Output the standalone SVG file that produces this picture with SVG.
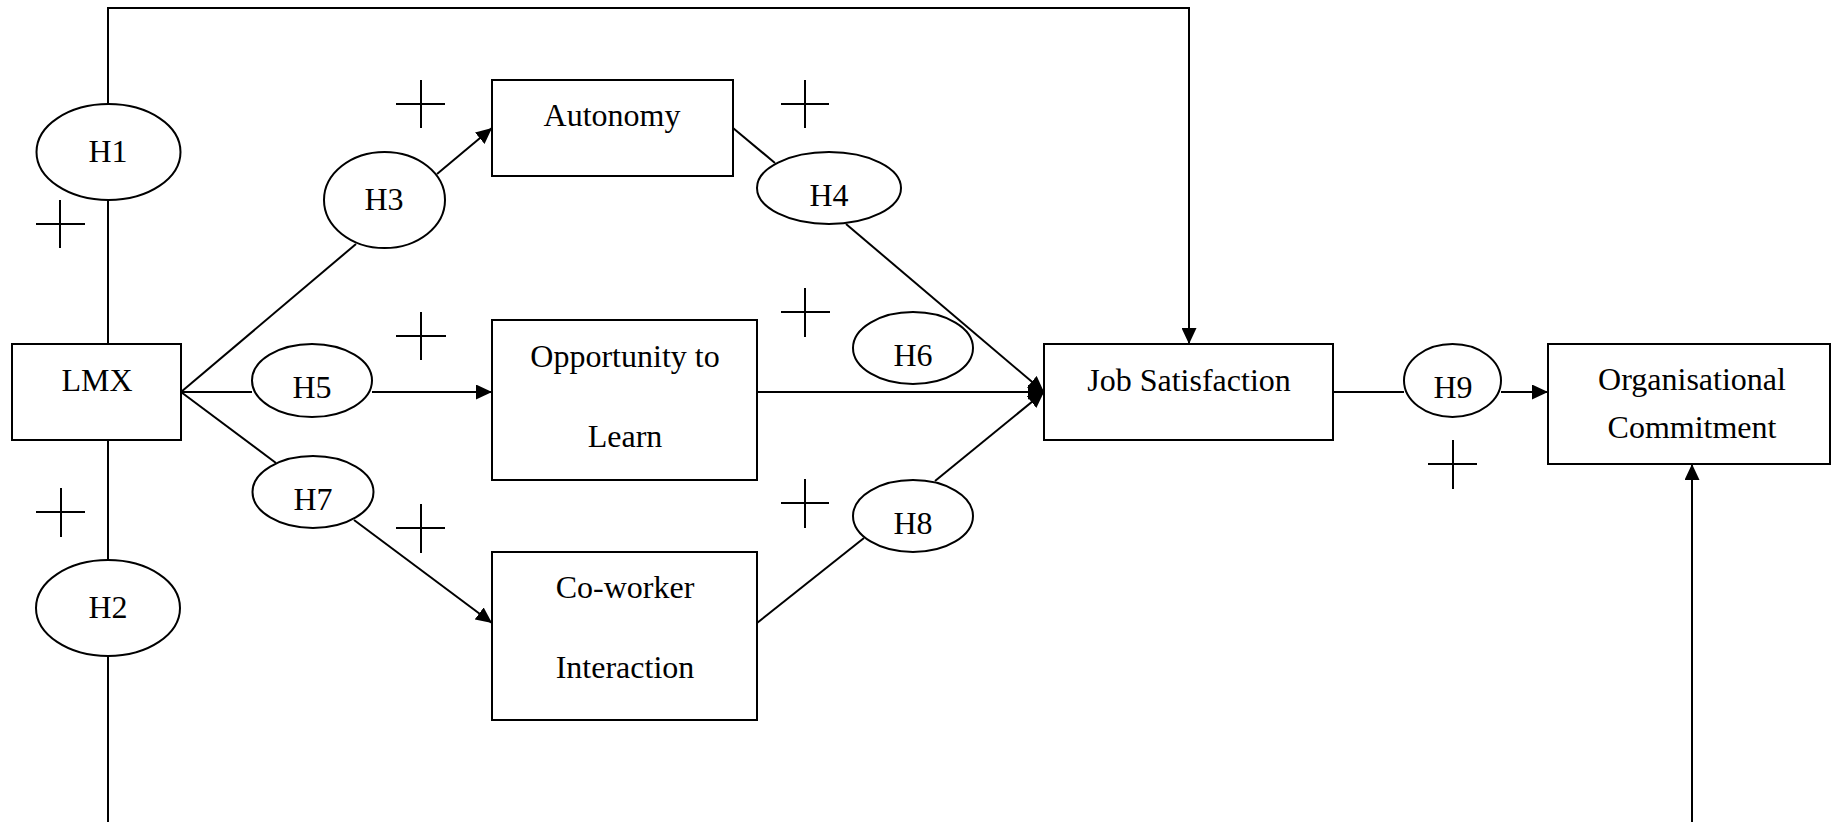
<svg xmlns="http://www.w3.org/2000/svg" width="1831" height="822" viewBox="0 0 1831 822">
  <style>
    .box { fill: #ffffff; stroke: #000000; stroke-width: 2; }
    .hyp { fill: #ffffff; stroke: #000000; stroke-width: 2; }
    .edge { fill: none; stroke: #000000; stroke-width: 2; }
    .arrow { marker-end: url(#head); }
    .plus { stroke: #000000; stroke-width: 2; fill: none; }
    text { font-family: "Liberation Serif", "Times New Roman", serif; font-size: 32px; fill: #000000; text-anchor: middle; }
  </style>
  <defs>
    <marker id="head" markerUnits="userSpaceOnUse" markerWidth="16" markerHeight="15" refX="16" refY="7.5" orient="auto">
      <path d="M0,0 L16,7.5 L0,15 Z" fill="#000000"/>
    </marker>
  </defs>

  <rect width="1831" height="822" fill="#ffffff"/>

  <!-- connectors -->
  <g id="connectors">
    <!-- H1: LMX up and over to Job Satisfaction -->
    <path class="edge arrow" d="M108,344 L108,8 L1189,8 L1189,344"/>
    <!-- H2: LMX down to Organisational Commitment (runs below the frame) -->
    <line class="edge" x1="108" y1="440" x2="108" y2="822"/>
    <line class="edge arrow" x1="1692" y1="822" x2="1692" y2="464"/>
    <!-- H3 -->
    <line class="edge" x1="181" y1="392" x2="356" y2="244"/>
    <line class="edge arrow" x1="437" y1="174" x2="492" y2="128"/>
    <!-- H5 -->
    <line class="edge" x1="181" y1="392" x2="252" y2="392"/>
    <line class="edge arrow" x1="372" y1="392" x2="492" y2="392"/>
    <!-- H7 -->
    <line class="edge" x1="181" y1="392" x2="276" y2="463"/>
    <line class="edge arrow" x1="354" y1="520" x2="492" y2="623"/>
    <!-- H4 -->
    <line class="edge" x1="733" y1="128" x2="775" y2="163"/>
    <line class="edge arrow" x1="846" y1="224" x2="1044" y2="392"/>
    <!-- H6 -->
    <line class="edge arrow" x1="757" y1="392" x2="1044" y2="392"/>
    <!-- H8 -->
    <line class="edge" x1="757" y1="623" x2="864" y2="538"/>
    <line class="edge arrow" x1="935" y1="481" x2="1044" y2="392"/>
    <!-- H9 -->
    <line class="edge" x1="1333" y1="392" x2="1404" y2="392"/>
    <line class="edge arrow" x1="1501" y1="392" x2="1548" y2="392"/>
  </g>

  <!-- positive-sign markers -->
  <g id="signs">
    <path class="plus" d="M36,224 H85 M60,200 V248"/>
    <path class="plus" d="M396,104 H445 M421,80 V128"/>
    <path class="plus" d="M781,104 H829 M805,80 V128"/>
    <path class="plus" d="M396,336 H446 M421,312 V360"/>
    <path class="plus" d="M781,312 H830 M805,288 V337"/>
    <path class="plus" d="M396,528 H445 M421,504 V553"/>
    <path class="plus" d="M781,503 H829 M805,479 V528"/>
    <path class="plus" d="M36,512 H85 M61,488 V537"/>
    <path class="plus" d="M1428,464 H1477 M1453,440 V489"/>
  </g>

  <!-- construct boxes -->
  <g id="lmx">
    <rect class="box" x="12" y="344" width="169" height="96"/>
    <text x="97" y="391">LMX</text>
  </g>
  <g id="autonomy">
    <rect class="box" x="492" y="80" width="241" height="96"/>
    <text x="612" y="126">Autonomy</text>
  </g>
  <g id="opportunity">
    <rect class="box" x="492" y="320" width="265" height="160"/>
    <text x="625" y="367">Opportunity to</text>
    <text x="625" y="447">Learn</text>
  </g>
  <g id="coworker">
    <rect class="box" x="492" y="552" width="265" height="168"/>
    <text x="625" y="598">Co-worker</text>
    <text x="625" y="678">Interaction</text>
  </g>
  <g id="jobsat">
    <rect class="box" x="1044" y="344" width="289" height="96"/>
    <text x="1189" y="391">Job Satisfaction</text>
  </g>
  <g id="commitment">
    <rect class="box" x="1548" y="344" width="282" height="120"/>
    <text x="1692" y="390">Organisational</text>
    <text x="1692" y="438">Commitment</text>
  </g>

  <!-- hypothesis ovals -->
  <g id="h1">
    <ellipse class="hyp" cx="108.5" cy="152" rx="72" ry="48"/>
    <text x="108" y="162">H1</text>
  </g>
  <g id="h2">
    <ellipse class="hyp" cx="108" cy="608" rx="72" ry="48"/>
    <text x="108" y="618">H2</text>
  </g>
  <g id="h3">
    <ellipse class="hyp" cx="384.5" cy="200" rx="60.5" ry="48"/>
    <text x="384" y="210">H3</text>
  </g>
  <g id="h4">
    <ellipse class="hyp" cx="829" cy="188" rx="72" ry="36"/>
    <text x="829" y="206">H4</text>
  </g>
  <g id="h5">
    <ellipse class="hyp" cx="312" cy="380.5" rx="60" ry="36.5"/>
    <text x="312" y="398">H5</text>
  </g>
  <g id="h6">
    <ellipse class="hyp" cx="913" cy="348" rx="60" ry="36"/>
    <text x="913" y="366">H6</text>
  </g>
  <g id="h7">
    <ellipse class="hyp" cx="313" cy="492" rx="60.5" ry="36"/>
    <text x="313" y="510">H7</text>
  </g>
  <g id="h8">
    <ellipse class="hyp" cx="913" cy="516" rx="60" ry="36"/>
    <text x="913" y="534">H8</text>
  </g>
  <g id="h9">
    <ellipse class="hyp" cx="1452.5" cy="380.5" rx="48.5" ry="36.5"/>
    <text x="1453" y="398">H9</text>
  </g>
</svg>
